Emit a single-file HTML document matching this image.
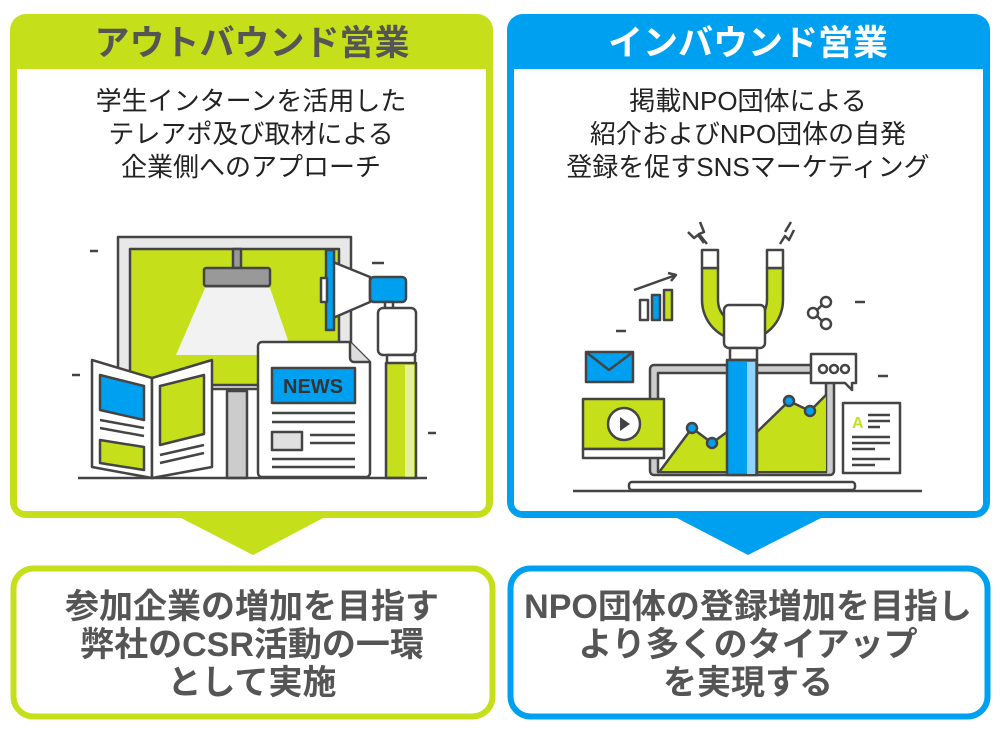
<!DOCTYPE html>
<html><head><meta charset="utf-8"><style>
html,body{margin:0;padding:0;background:#fff;}
svg{display:block}
text{font-family:"Liberation Sans","Noto Sans CJK JP",sans-serif;}
</style></head><body>
<svg width="1000" height="735" viewBox="0 0 1000 735" xmlns="http://www.w3.org/2000/svg">
<!-- Left panel -->
<rect x="10" y="14" width="483" height="504" rx="16" fill="#c5e01b"/>
<rect x="17" y="69" width="469" height="442" rx="8" fill="#fff"/>
<rect x="17" y="69" width="469" height="20" fill="#fff"/>
<text x="252" y="55" font-size="35" font-weight="bold" fill="#555" text-anchor="middle">アウトバウンド営業</text>
<g font-size="26" fill="#222" text-anchor="middle">
<text x="251" y="110">学生インターンを活用した</text>
<text x="251" y="143">テレアポ及び取材による</text>
<text x="251" y="176">企業側へのアプローチ</text>
</g>
<!-- Right panel -->
<rect x="507" y="14" width="483" height="504" rx="16" fill="#00a0f0"/>
<rect x="514" y="69" width="469" height="442" rx="8" fill="#fff"/>
<rect x="514" y="69" width="469" height="20" fill="#fff"/>
<text x="748" y="55" font-size="35" font-weight="bold" fill="#fff" text-anchor="middle">インバウンド営業</text>
<g font-size="26" fill="#222" text-anchor="middle">
<text x="748" y="110">掲載NPO団体による</text>
<text x="748" y="143">紹介およびNPO団体の自発</text>
<text x="748" y="176">登録を促すSNSマーケティング</text>
</g>
<!-- triangles -->
<polygon points="179,517 325,517 253,555" fill="#c5e01b"/>
<polygon points="675,517 823,517 748,555" fill="#00a0f0"/>
<!-- bottom boxes -->
<rect x="13.5" y="568.5" width="479" height="148" rx="20" fill="#fff" stroke="#c5e01b" stroke-width="6"/>
<rect x="510.5" y="568.5" width="477" height="148" rx="20" fill="#fff" stroke="#00a0f0" stroke-width="6"/>
<g font-size="34" font-weight="bold" fill="#555" text-anchor="middle">
<text x="252" y="618">参加企業の増加を目指す</text>
<text x="252" y="656">弊社のCSR活動の一環</text>
<text x="252" y="694">として実施</text>
<text x="748" y="618">NPO団体の登録増加を目指し</text>
<text x="748" y="656">より多くのタイアップ</text>
<text x="748" y="694">を実現する</text>
</g>

<!-- Left illustration -->
<g stroke="#444" stroke-width="2.5" stroke-linejoin="round">
<line x1="90" y1="251" x2="98" y2="251"/><line x1="372" y1="263" x2="384" y2="263"/>
<line x1="72" y1="375" x2="80" y2="375"/><line x1="428" y1="433" x2="436" y2="433"/>
<rect x="118" y="237" width="233" height="152" fill="#e8e8e8"/>
<rect x="130" y="249" width="209" height="136" fill="#c5e01b"/>
<rect x="227" y="391" width="20" height="87" fill="#ccc"/>
<rect x="233" y="249" width="8" height="19" fill="#999"/>
<rect x="204" y="268" width="66" height="18" rx="2" fill="#999"/>
<polygon points="205,288 270,288 293,355 176,355" fill="#f2f2f2" stroke="none"/>
<polygon points="92,360 152,378 152,478 92,467" fill="#fff"/>
<polygon points="152,378 212,360 212,467 152,478" fill="#fff"/>
<polygon points="100,375 144,386 144,420 100,410" fill="#00a0f0"/>
<polygon points="100,440 144,447 144,470 100,463" fill="#c5e01b"/>
<polygon points="160,386 204,375 204,434 160,445" fill="#c5e01b"/>
<line x1="100" y1="420" x2="144" y2="428"/><line x1="100" y1="428" x2="144" y2="436"/>
<line x1="160" y1="455" x2="204" y2="445"/><line x1="160" y1="463" x2="204" y2="453"/>
<path d="M262,342 H350 L370,362 V473 a4,4 0 0 1 -4,4 H262 a4,4 0 0 1 -4,-4 V346 a4,4 0 0 1 4,-4 Z" fill="#fff"/>
<path d="M350,342 V358 a4,4 0 0 0 4,4 H370" fill="#ddd"/>
<rect x="272" y="368" width="83" height="35" fill="#00a0f0"/>
<line x1="272" y1="413" x2="355" y2="413"/><line x1="272" y1="422" x2="355" y2="422"/>
<rect x="272" y="432" width="30" height="18" fill="#e0e0e0"/>
<line x1="310" y1="435" x2="355" y2="435"/><line x1="310" y1="443" x2="355" y2="443"/>
<line x1="272" y1="459" x2="355" y2="459"/><line x1="272" y1="467" x2="355" y2="467"/>
<polygon points="333,262 370,277 370,302 333,318" fill="#fff"/>
<rect x="326" y="250" width="8" height="80" fill="#00a0f0"/>
<rect x="321" y="278" width="6" height="24" fill="#fff"/>
<rect x="370" y="277" width="36" height="25" rx="4" fill="#00a0f0"/>
<rect x="385" y="302" width="8" height="12" fill="#fff"/>
<rect x="378" y="308" width="38" height="47" rx="5" fill="#fff"/>
<rect x="387" y="355" width="28" height="10" fill="#fff"/>
<rect x="386" y="363" width="30" height="115" fill="#c5e01b"/>
</g>
<rect x="405" y="365" width="9" height="112" fill="#e4f09a"/>
<line x1="78" y1="478" x2="427" y2="478" stroke="#444" stroke-width="2.5"/>
<text x="313" y="393" font-size="20" font-weight="bold" fill="#333" text-anchor="middle">NEWS</text>

<!-- Right illustration -->
<g stroke="#444" stroke-width="2.5" stroke-linejoin="round" fill="none">
<line x1="616" y1="331" x2="626" y2="331"/><line x1="855" y1="302" x2="865" y2="302"/><line x1="878" y1="376" x2="888" y2="376"/>
<path d="M688,232 l6,6 l4,-3 l6,8 M700,222 l4,10 l-5,2 l8,10" />
<path d="M780,244 l5,-8 l4,4 l5,-10 M785,232 l6,-10" />
<rect x="650" y="365" width="184" height="110" rx="4" fill="#ccc"/>
<rect x="658" y="373" width="168" height="99" fill="#fff"/>
<polygon points="660,471 692,428 712,443 727,432 727,471" fill="#c5e01b" stroke="none"/>
<polygon points="757,432 789,401 810,411 826,395 826,471 757,471" fill="#c5e01b" stroke="none"/>
<polyline points="660,471 692,428 712,443 727,432"/>
<polyline points="757,432 789,401 810,411 826,395"/>
<circle cx="692" cy="428" r="5" fill="#00a0f0"/><circle cx="712" cy="443" r="5" fill="#00a0f0"/>
<circle cx="789" cy="401" r="5" fill="#00a0f0"/><circle cx="810" cy="411" r="5" fill="#00a0f0"/>
<rect x="629" y="482" width="226" height="8" rx="3" fill="#fff"/>
<path d="M702,268 V300 a40,40 0 0 0 81,0 V268 H767 V300 a24,24 0 0 1 -49,0 V268 Z" fill="#c5e01b"/>
<rect x="702" y="250" width="16" height="18" fill="#fff"/><rect x="767" y="250" width="16" height="18" fill="#fff"/>
<rect x="724" y="305" width="41" height="43" rx="5" fill="#fff"/>
<rect x="730" y="348" width="27" height="12" fill="#fff"/>
<rect x="727" y="360" width="30" height="115" fill="#00a0f0"/>
<rect x="586" y="352" width="47" height="30" fill="#00a0f0"/>
<polyline points="586,352 609,370 633,352"/>
<rect x="583" y="399" width="81" height="50" fill="#c5e01b"/>
<rect x="583" y="449" width="81" height="9" fill="#fff"/>
<circle cx="624" cy="424" r="16" fill="#fff"/>
<polygon points="620,417 630,424 620,431" fill="#444" stroke="none"/>
<polyline points="634,290 676,275"/><polyline points="668,273 676,275 671,281"/>
<rect x="640" y="300" width="8" height="20" fill="#fff"/><rect x="652" y="295" width="8" height="25" fill="#00a0f0"/><rect x="664" y="290" width="8" height="30" fill="#c5e01b"/>
<circle cx="826" cy="302" r="5"/><circle cx="813" cy="313" r="5"/><circle cx="826" cy="324" r="5"/>
<line x1="817" y1="310" x2="822" y2="305"/><line x1="817" y1="316" x2="822" y2="321"/>
<path d="M811,354 H856 V383 H852 V390 L845,383 H811 Z" fill="#fff"/>
<circle cx="823" cy="369" r="4"/><circle cx="834" cy="369" r="4"/><circle cx="845" cy="369" r="4"/>
<rect x="843" y="403" width="57" height="70" fill="#fff"/>
<line x1="868" y1="415" x2="890" y2="415"/><line x1="868" y1="421" x2="890" y2="421"/><line x1="868" y1="427" x2="880" y2="427"/>
<line x1="852" y1="437" x2="890" y2="437"/><line x1="852" y1="443" x2="890" y2="443"/><line x1="852" y1="449" x2="875" y2="449"/>
<line x1="852" y1="459" x2="890" y2="459"/><line x1="852" y1="465" x2="875" y2="465"/>
<line x1="573" y1="491" x2="922" y2="491"/>
</g>
<rect x="747" y="362" width="8" height="112" fill="#8fd3ff"/>
<text x="852" y="428" font-size="16" font-weight="bold" fill="#c5e01b">A</text>
</svg>
</body></html>
